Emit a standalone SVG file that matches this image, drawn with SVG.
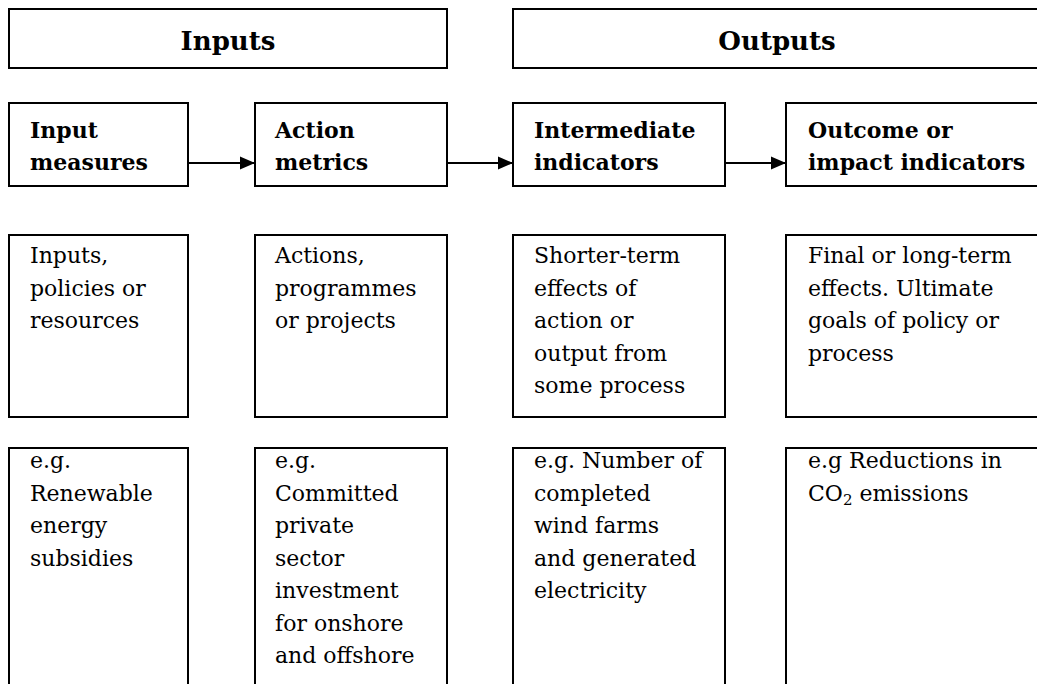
<svg xmlns="http://www.w3.org/2000/svg" width="1037" height="684" viewBox="0 0 1037 684">
<style>
.box{fill:#fff;stroke:#000;stroke-width:2}
.h{font-family:"DejaVu Serif","Liberation Serif",serif;font-weight:bold;font-size:26px;fill:#000;text-anchor:middle}
.b{font-family:"DejaVu Serif","Liberation Serif",serif;font-weight:bold;font-size:22px;fill:#000}
.t{font-family:"DejaVu Serif","Liberation Serif",serif;font-size:22px;fill:#000}
.c{stroke:#000;stroke-width:2;fill:none}
</style>
<defs>
<marker id="ah" markerWidth="16" markerHeight="14" refX="15" refY="7" orient="auto" markerUnits="userSpaceOnUse">
<path d="M0,0.5 L15,7 L0,13.5 Z" fill="#000"/>
</marker>
</defs>
<rect width="1037" height="684" fill="#fff"/>
<g id="inputs-header"><rect class="box" x="9" y="9" width="438" height="59"/><text class="h" x="228" y="50">Inputs</text></g>
<g id="outputs-header"><rect class="box" x="513" y="9" width="540" height="59"/><text class="h" x="777" y="50">Outputs</text></g>

<g id="input-measures"><rect class="box" x="9" y="103" width="179" height="83"/><text class="b" x="30" y="138">Input</text><text class="b" x="30" y="170">measures</text></g>
<g id="action-metrics"><rect class="box" x="255" y="103" width="192" height="83"/><text class="b" x="275" y="138">Action</text><text class="b" x="275" y="170">metrics</text></g>
<g id="intermediate-indicators"><rect class="box" x="513" y="103" width="212" height="83"/><text class="b" x="534" y="138">Intermediate</text><text class="b" x="534" y="170">indicators</text></g>
<g id="outcome-indicators"><rect class="box" x="786" y="103" width="270" height="83"/><text class="b" x="808" y="138">Outcome or</text><text class="b" x="808" y="170">impact indicators</text></g>

<g id="connectors">
<line class="c" x1="188" y1="163" x2="255" y2="163" marker-end="url(#ah)"/>
<line class="c" x1="447" y1="163" x2="513" y2="163" marker-end="url(#ah)"/>
<line class="c" x1="725" y1="163" x2="786" y2="163" marker-end="url(#ah)"/>
</g>

<g id="desc-1"><rect class="box" x="9" y="235" width="179" height="182"/><text class="t" x="30" y="263">Inputs,</text><text class="t" x="30" y="295.5">policies or</text><text class="t" x="30" y="328">resources</text></g>
<g id="desc-2"><rect class="box" x="255" y="235" width="192" height="182"/><text class="t" x="275" y="263">Actions,</text><text class="t" x="275" y="295.5">programmes</text><text class="t" x="275" y="328">or projects</text></g>
<g id="desc-3"><rect class="box" x="513" y="235" width="212" height="182"/><text class="t" x="534" y="263">Shorter-term</text><text class="t" x="534" y="295.5">effects of</text><text class="t" x="534" y="328">action or</text><text class="t" x="534" y="360.5">output from</text><text class="t" x="534" y="393">some process</text></g>
<g id="desc-4"><rect class="box" x="786" y="235" width="270" height="182"/><text class="t" x="808" y="263">Final or long-term</text><text class="t" x="808" y="295.5">effects. Ultimate</text><text class="t" x="808" y="328">goals of policy or</text><text class="t" x="808" y="360.5">process</text></g>

<g id="example-1"><rect class="box" x="9" y="448" width="179" height="250"/><text class="t" x="30" y="468">e.g.</text><text class="t" x="30" y="500.5">Renewable</text><text class="t" x="30" y="533">energy</text><text class="t" x="30" y="565.5">subsidies</text></g>
<g id="example-2"><rect class="box" x="255" y="448" width="192" height="250"/><text class="t" x="275" y="468">e.g.</text><text class="t" x="275" y="500.5">Committed</text><text class="t" x="275" y="533">private</text><text class="t" x="275" y="565.5">sector</text><text class="t" x="275" y="598">investment</text><text class="t" x="275" y="630.5">for onshore</text><text class="t" x="275" y="663">and offshore</text></g>
<g id="example-3"><rect class="box" x="513" y="448" width="212" height="250"/><text class="t" x="534" y="468">e.g. Number of</text><text class="t" x="534" y="500.5">completed</text><text class="t" x="534" y="533">wind farms</text><text class="t" x="534" y="565.5">and generated</text><text class="t" x="534" y="598">electricity</text></g>
<g id="example-4"><rect class="box" x="786" y="448" width="270" height="250"/><text class="t" x="808" y="468">e.g Reductions in</text><text class="t" x="808" y="500.5">CO<tspan font-size="15" dy="4">2</tspan><tspan dy="-4"> emissions</tspan></text></g>
</svg>
